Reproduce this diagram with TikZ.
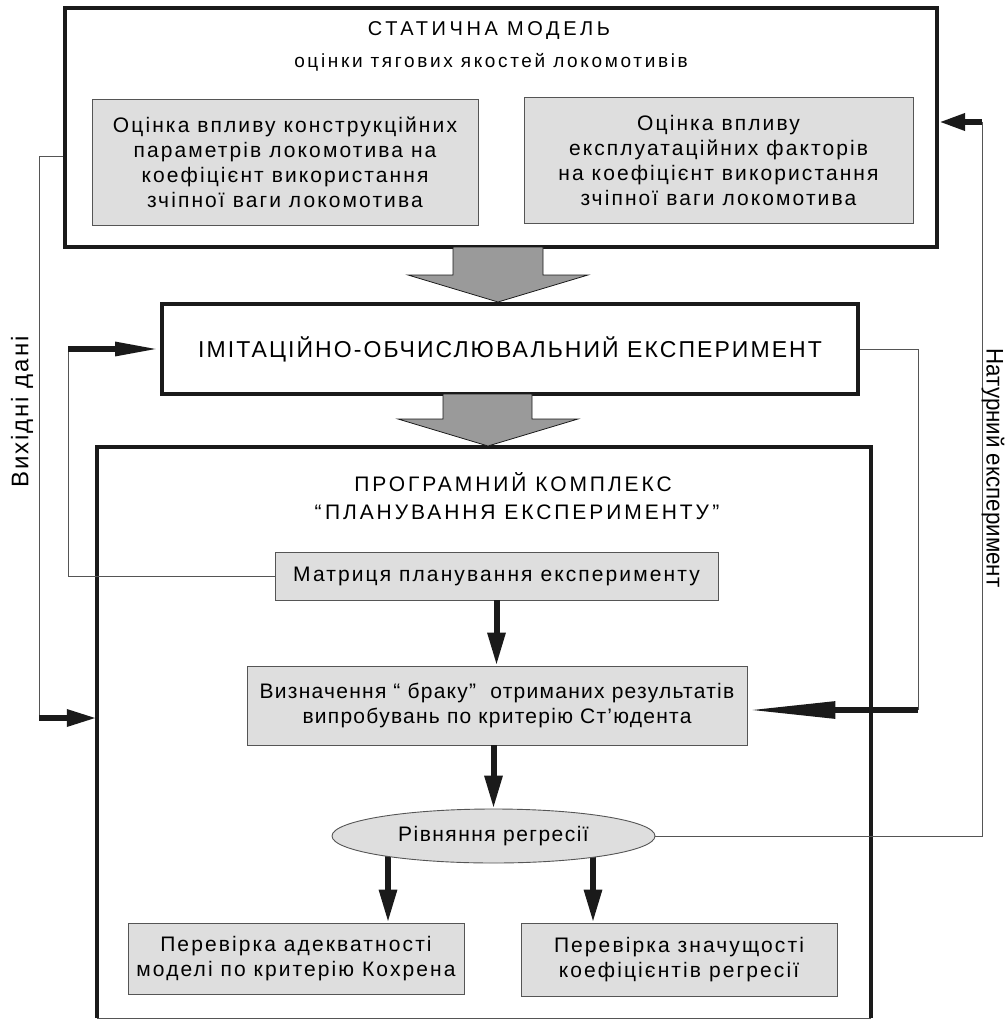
\documentclass[tikz,border=0pt]{standalone}
\usepackage{fontspec}
\setmainfont{Liberation Sans}
\newfontfamily\titlef[LetterSpace=18]{Liberation Sans}
\newfontfamily\subf[LetterSpace=14]{Liberation Sans}
\newfontfamily\midf[LetterSpace=9]{Liberation Sans}
\newfontfamily\progf[LetterSpace=14]{Liberation Sans}
\newfontfamily\bodyf[LetterSpace=10]{Liberation Sans}
\newfontfamily\vizf[LetterSpace=6]{Liberation Sans}
\newfontfamily\ellf[LetterSpace=7]{Liberation Sans}
\newfontfamily\sidef[LetterSpace=8]{Liberation Sans}
\newfontfamily\sidecf[FakeStretch=0.93]{Liberation Sans}
\usetikzlibrary{arrows.meta,shapes.geometric,backgrounds}
\definecolor{boxgray}{HTML}{DEDEDE}
\definecolor{blockgray}{HTML}{9A9A9A}
\definecolor{ink}{HTML}{1A1A1A}
\definecolor{linegray}{HTML}{555555}
\begin{document}
\begin{tikzpicture}[x=1pt,y=-1pt,
  mainbox/.style={draw=ink, line width=4pt, inner sep=0pt},
  graybox/.style={draw=linegray, fill=boxgray, line width=0.9pt, align=center, inner sep=0pt,
    font=\bodyf\fontsize{21}{25}\selectfont},
  conn/.style={draw=linegray, line width=1pt},
  fat/.style={draw=ink, fill=ink, line width=6pt},
  blockarrow/.style={fill=blockgray, draw=ink, line width=0.8pt, line join=miter},
  titlefont/.style={font=\titlef\fontsize{20}{24}\selectfont},
  subfont/.style={font=\subf\fontsize{19}{22}\selectfont},
  midfont/.style={font=\midf\fontsize{23}{27}\selectfont},
  progfont/.style={font=\progf\fontsize{21}{25}\selectfont}
]
\useasboundingbox (0,0) rectangle (1005,1019);

% top box
\node[mainbox, minimum width=872pt, minimum height=239pt] (top) at (501,127.5) {};
\node[titlefont] (t1) at (489,31) {СТАТИЧНА МОДЕЛЬ};
\node[subfont] (t2) at (491,62) {оцінки тягових якостей локомотивів};
\node[graybox, minimum width=386pt, minimum height=126pt] (gl) at (285,162)
  {Оцінка впливу конструкційних\\параметрів локомотива на\\коефіцієнт використання\\зчіпної ваги локомотива};
\node[graybox, minimum width=389pt, minimum height=126pt] (gr) at (718.5,160)
  {Оцінка впливу\\експлуатаційних факторів\\на коефіцієнт використання\\зчіпної ваги локомотива};

% middle box
\node[mainbox, midfont, minimum width=696pt, minimum height=90pt] (mid) at (510,349)
  {ІМІТАЦІЙНО-ОБЧИСЛЮВАЛЬНИЙ ЕКСПЕРИМЕНТ};

% bottom box
\node[inner sep=0pt, minimum width=774pt, minimum height=571pt] (bot) at (484,732.5) {};
\draw[ink, line width=4pt, line join=miter] (bot.south west) -- (bot.north west) -- (bot.north east) -- (bot.south east);
\draw[linegray, line width=1pt] (bot.south west) -- (bot.south east);
\node[progfont] (p1) at (513,482) {ПРОГРАМНИЙ КОМПЛЕКС};
\node[progfont] (p2) at (517,512) {“\,ПЛАНУВАННЯ ЕКСПЕРИМЕНТУ\,”};

\node[graybox, minimum width=443pt, minimum height=48pt] (mat) at (496.5,576) {Матриця планування експерименту};
\node[graybox, minimum width=500pt, minimum height=79pt, font=\vizf\fontsize{21}{25}\selectfont] (viz) at (497,705.5)
  {Визначення “ браку” \ отриманих результатів\\випробувань по критерію Ст’юдента};
\node[ellipse, draw=linegray, fill=boxgray, line width=0.9pt, inner sep=0pt,
  minimum width=323pt, minimum height=54pt, font=\ellf\fontsize{21}{25}\selectfont] (ell) at (493.5,836) {Рівняння регресії};
\node[graybox, minimum width=336pt, minimum height=71pt] (bl) at (296,958.5)
  {Перевірка адекватності\\моделі по критерію Кохрена};
\node[graybox, minimum width=316pt, minimum height=73pt] (br) at (679,959.5)
  {Перевірка значущості\\коефіцієнтів регресії};

% block arrows
\draw[blockarrow] (453,247) -- (543,247) -- (543,275) -- (588,275) -- (498,302) -- (408,275) -- (453,275) -- cycle;
\draw[blockarrow] (443,394) -- (532,394) -- (532,419) -- (578,419) -- (488,446) -- (398,419) -- (443,419) -- cycle;

% inner arrows
\draw[fat, -{Triangle[length=33pt,width=17pt]}] (mat.south) -- (mat.south |- viz.north);
\draw[fat, -{Triangle[length=33pt,width=17pt]}] (ell.north |- viz.south) -- (ell.north);
\coordinate (xa) at (388,0);
\coordinate (xb) at (593,0);
\begin{scope}[on background layer]
\draw[fat, -{Triangle[length=33pt,width=17pt]}] (xa |- ell.center) -- (xa |- bl.north);
\draw[fat, -{Triangle[length=33pt,width=17pt]}] (xb |- ell.center) -- (xb |- br.north);
\end{scope}

% left outer connector
\coordinate (c1) at (39,157);
\coordinate (c2) at (39,718);
\draw[conn] (top.west |- c1) -- (c1) -- (c2);
\draw[fat, -{Triangle[length=30pt,width=16pt]}] (c2) -- (bot.west |- c2);

% matrix -> middle box
\coordinate (c3) at (68,576);
\coordinate (c4) at (68,349);
\draw[conn] (mat.west) -- (c3) -- (c4);
\draw[fat, -{Triangle[length=45pt,width=13pt]}] (c4) -- (mid.west);

% middle box -> viz
\coordinate (c5) at (918,349);
\coordinate (c6) at (918,710);
\draw[conn] (mid.east) -- (c5) -- (c6);
\draw[fat, -{Triangle[length=88pt,width=16pt]}] (c6) -- (viz.east |- c6);

% ellipse -> top box
\coordinate (c7) at (982,836);
\coordinate (c8) at (982,122);
\draw[conn] (ell.east) -- (c7) -- (c8);
\draw[fat, -{Triangle[length=26pt,width=16pt]}] (c8) -- (top.east |- c8);

% side labels
\node[font=\sidef\fontsize{24}{28}\selectfont, rotate=90] (vl) at (22,412) {Вихідні дані};
\node[font=\sidecf\fontsize{24}{28}\selectfont, rotate=-90] (vr) at (993,468) {Натурний експеримент};
\end{tikzpicture}
\end{document}
